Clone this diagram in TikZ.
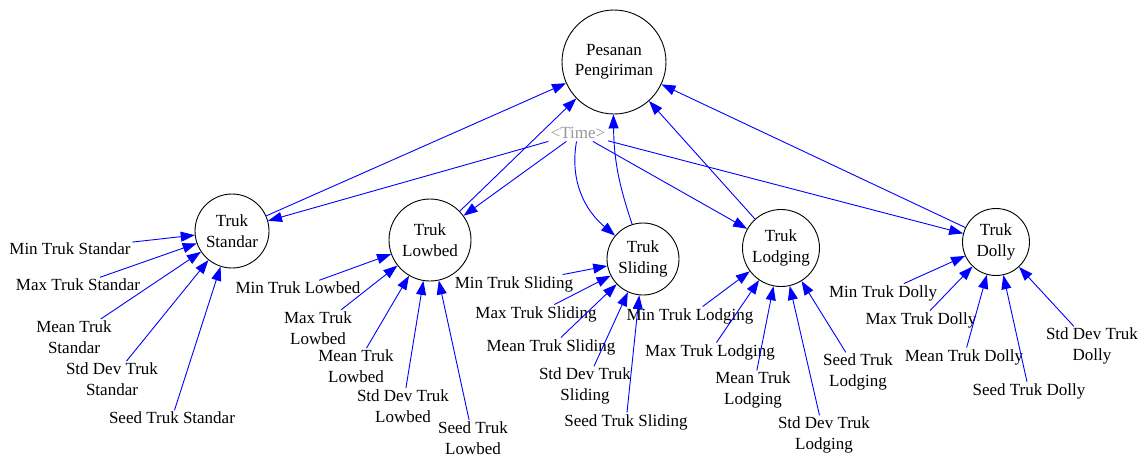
\documentclass[tikz,border=0pt]{standalone}
\usepackage{fontspec}
\setmainfont{Liberation Serif}
\usetikzlibrary{arrows.meta}
\definecolor{linkblue}{RGB}{0,0,255}
\definecolor{timegray}{RGB}{150,150,150}
\begin{document}
\begin{tikzpicture}[x=1pt,y=-1pt,
  every node/.style={font=\fontsize{17}{20.5}\selectfont},
  level/.style={circle,draw=black,line width=0.9pt,inner sep=0pt,align=center},
  aux/.style={align=center,inner sep=1.5pt},
  timevar/.style={text=timegray,inner sep=2.5pt},
  link/.style={draw=linkblue,line width=0.9pt,-{Triangle[length=14pt,width=10pt]}}]
\useasboundingbox (0,0) rectangle (1144,459);

% levels
\node[level,minimum size=104pt] (pesanan) at (614,62) {Pesanan\\Pengiriman};
\node[level,minimum size=74pt] (standar) at (232,231) {Truk\\Standar};
\node[level,minimum size=82pt] (lowbed) at (430,240) {Truk\\Lowbed};
\node[level,minimum size=72pt] (sliding) at (643,259) {Truk\\Sliding};
\node[level,minimum size=77pt] (lodging) at (781,248) {Truk\\Lodging};
\node[level,minimum size=67pt] (dolly) at (996,242) {Truk\\Dolly};
\node[timevar] (time) at (578,133) {<Time>};

% parameters: Standar
\node[aux] (minS) at (70,249) {Min Truk Standar};
\node[aux] (maxS) at (78,285) {Max Truk Standar};
\node[aux] (meanS) at (74,337) {Mean Truk\\Standar};
\node[aux] (sdS) at (112,379) {Std Dev Truk\\Standar};
\node[aux] (seedS) at (172,418) {Seed Truk Standar};

% parameters: Lowbed
\node[aux] (minL) at (298,288) {Min Truk Lowbed};
\node[aux] (maxL) at (318,328) {Max Truk\\Lowbed};
\node[aux] (meanL) at (356,366) {Mean Truk\\Lowbed};
\node[aux] (sdL) at (403,406) {Std Dev Truk\\Lowbed};
\node[aux] (seedL) at (473,438) {Seed Truk\\Lowbed};

% parameters: Sliding
\node[aux] (minSl) at (514,284) {Min Truk Sliding};
\node[aux] (maxSl) at (536,314) {Max Truk Sliding};
\node[aux] (meanSl) at (551,347) {Mean Truk Sliding};
\node[aux] (sdSl) at (585,386) {Std Dev Truk\\Sliding};
\node[aux] (seedSl) at (626,422) {Seed Truk Sliding};

% parameters: Lodging
\node[aux] (minLo) at (690,316) {Min Truk Lodging};
\node[aux] (maxLo) at (710,352) {Max Truk Lodging};
\node[aux] (meanLo) at (753,390) {Mean Truk\\Lodging};
\node[aux] (sdLo) at (824,435) {Std Dev Truk\\Lodging};
\node[aux] (seedLo) at (858,372) {Seed Truk\\Lodging};

% parameters: Dolly
\node[aux] (minD) at (883,293) {Min Truk Dolly};
\node[aux] (maxD) at (921,320) {Max Truk Dolly};
\node[aux] (meanD) at (964,357) {Mean Truk Dolly};
\node[aux] (seedD) at (1029,391) {Seed Truk Dolly};
\node[aux] (sdD) at (1092,346) {Std Dev Truk\\Dolly};

% parameter links
\foreach \src/\dst in {minS/standar,maxS/standar,meanS/standar,sdS/standar,seedS/standar,
  minL/lowbed,maxL/lowbed,meanL/lowbed,sdL/lowbed,seedL/lowbed,
  minSl/sliding,maxSl/sliding,meanSl/sliding,sdSl/sliding,seedSl/sliding,
  minLo/lodging,maxLo/lodging,meanLo/lodging,sdLo/lodging,seedLo/lodging,
  minD/dolly,maxD/dolly,meanD/dolly,seedD/dolly,sdD/dolly}
  \draw[link] (\src) -- (\dst);

% trucks into orders
\draw[link] (standar) -- (pesanan);
\draw[link] (lowbed) -- (pesanan);
\draw[link] (sliding) to[bend left=9] (pesanan);
\draw[link] (lodging) -- (pesanan);
\draw[link] (dolly) -- (pesanan);

% time links
\draw[link] (time) -- (standar);
\draw[link] (time) -- (lowbed);
\draw[link] (time) to[out=-100,in=140] (sliding);
\draw[link] (time) -- (lodging);
\draw[link] (time) -- (dolly);
\end{tikzpicture}
\end{document}
